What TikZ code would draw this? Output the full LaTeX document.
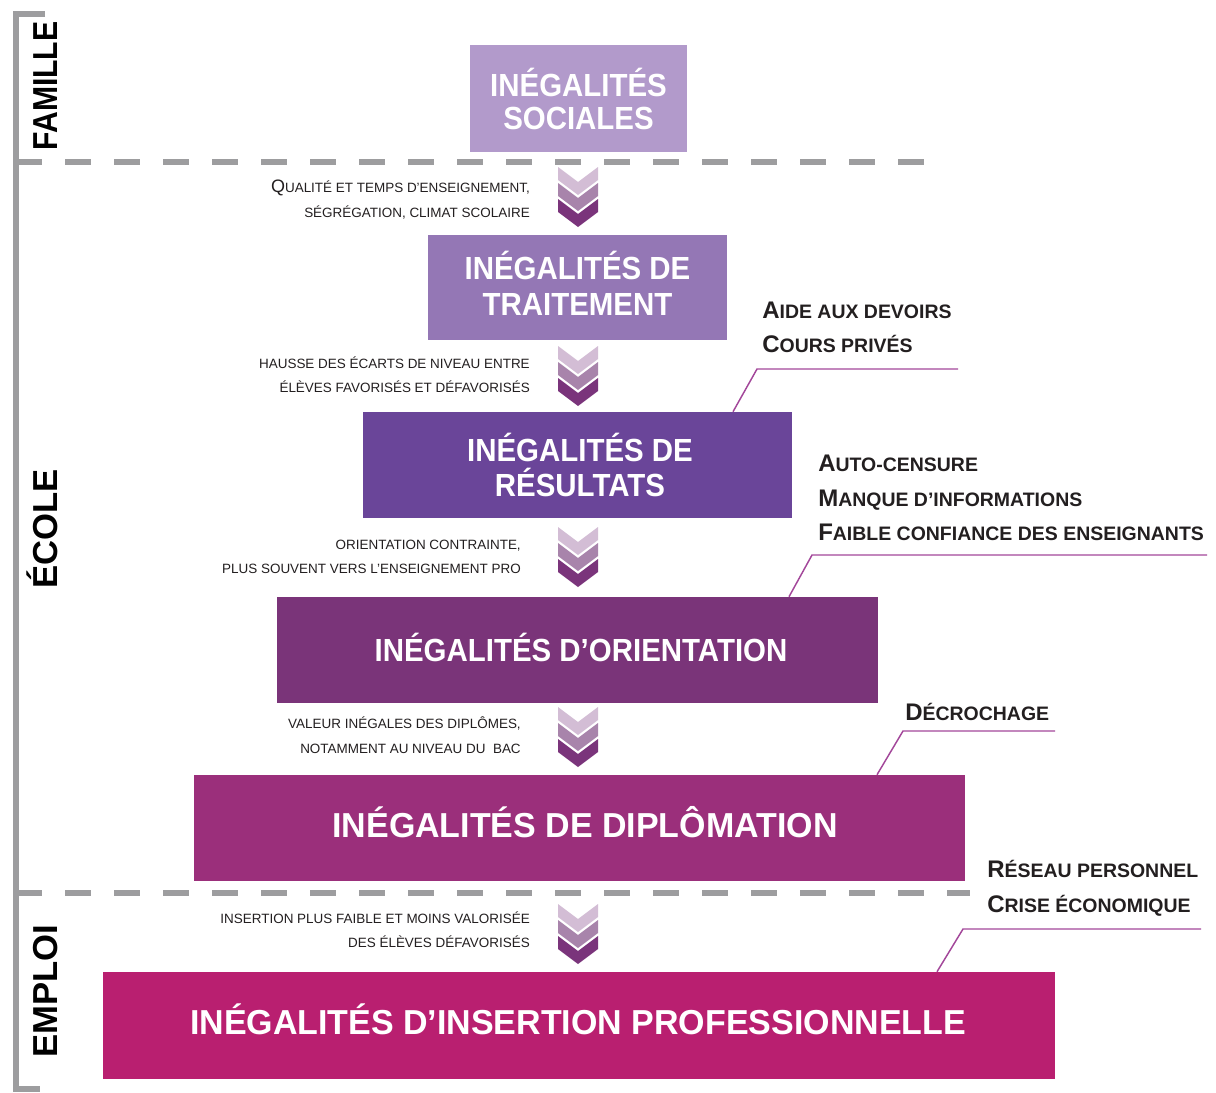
\documentclass[tikz,border=0pt]{standalone}
\usepackage{fontspec}
\setmainfont{Liberation Sans}
\newfontfamily\tfA[FakeStretch=0.92]{Liberation Sans}
\newfontfamily\tfB[FakeStretch=0.98]{Liberation Sans}
\definecolor{cA}{HTML}{B29ACB}
\definecolor{cB}{HTML}{9477B5}
\definecolor{cC}{HTML}{6A4599}
\definecolor{cD}{HTML}{7A3479}
\definecolor{cE}{HTML}{9B2F7B}
\definecolor{cF}{HTML}{B91F70}
\definecolor{chA}{HTML}{D3BDD5}
\definecolor{chB}{HTML}{A884AB}
\definecolor{chC}{HTML}{7A347B}
\definecolor{gr}{HTML}{9D9D9F}
\definecolor{cl}{HTML}{A3479A}
\definecolor{txt}{HTML}{231F20}
\newcommand\Bq[1]{{\fontsize{13.5}{12}\selectfont #1}}
\newcommand\Ab[1]{{\fontsize{18}{18}\selectfont #1}}
\tikzset{
  box/.style={draw=none, inner sep=0pt},
  ttl/.style={inner sep=0pt, anchor=base, text=white,
    font={\tfA\bfseries\fontsize{24}{24}\selectfont}},
  widettl/.style={ttl, font={\tfB\bfseries\fontsize{26}{26}\selectfont}},
  lbl/.style={inner sep=0pt, anchor=base east, text=txt,
    font={\fontsize{10.1}{12}\selectfont}},
  ann/.style={inner sep=0pt, anchor=base west, text=txt,
    font={\bfseries\fontsize{14.6}{16}\selectfont}},
  sect/.style={rotate=90, inner sep=0pt, text=black,
    font={\bfseries\fontsize{26}{26}\selectfont}, text height=18.6pt, text depth=0pt},
  sep/.style={draw=gr, line width=4.5pt, dash pattern=on 19.5pt off 17.25pt},
  bracket/.style={draw=gr, line width=5pt},
  callout/.style={draw=cl, line width=1.1pt},
  chevs/.pic={
    \fill[chA] (-20,0) -- (0,15) -- (20,0) -- (20,13) -- (0,28) -- (-20,13) -- cycle;
    \fill[chB] (-20,16) -- (0,31) -- (20,16) -- (20,29) -- (0,44) -- (-20,29) -- cycle;
    \fill[chC] (-20,32) -- (0,47) -- (20,32) -- (20,45) -- (0,60) -- (-20,45) -- cycle;
  }
}
\begin{document}
\begin{tikzpicture}[x=0.75pt,y=-0.75pt]
\fill[white] (0,0) rectangle (1216,1092);
\useasboundingbox (0,0) rectangle (1216,1092);

% bracket and separators
\draw[bracket] (45,14) -- (16,14) -- (16,1089) -- (40,1089);
\draw[sep] (16,162) -- (930,162);
\draw[sep] (16,893) -- (970,893);

% section labels
\node[sect] (famille) at (45.5,86) {\scalebox{0.87}[1]{FAMILLE}};
\node[sect] (ecole) at (45.5,529) {ÉCOLE};
\node[sect] (emploi) at (45.5,991) {EMPLOI};

% boxes
\node[box, fill=cA, minimum width=162.75pt, minimum height=80.25pt] (b1) at (578.5,98.5) {};
\node[box, fill=cB, minimum width=224.25pt, minimum height=78.75pt] (b2) at (577.5,287.5) {};
\node[box, fill=cC, minimum width=321.75pt, minimum height=79.5pt] (b3) at (577.5,465) {};
\node[box, fill=cD, minimum width=450.75pt, minimum height=79.5pt] (b4) at (577.5,650) {};
\node[box, fill=cE, minimum width=578.25pt, minimum height=79.5pt] (b5) at (579.5,828) {};
\node[box, fill=cF, minimum width=714pt, minimum height=80.25pt] (b6) at (579,1025.5) {};

% box titles
\node[ttl] (t1a) at (578.5,96) {INÉGALITÉS};
\node[ttl] (t1b) at (578.5,129) {SOCIALES};
\node[ttl] (t2a) at (577.5,279.5) {INÉGALITÉS DE};
\node[ttl] (t2b) at (577.5,315.5) {TRAITEMENT};
\node[ttl] (t3a) at (580,461.5) {INÉGALITÉS DE};
\node[ttl] (t3b) at (580,496.5) {RÉSULTATS};
\node[ttl] (t4) at (581,661.5) {INÉGALITÉS D’ORIENTATION};
\node[widettl] (t5) at (585,837.4) {INÉGALITÉS DE DIPLÔMATION};
\node[widettl] (t6) at (578,1034.4) {INÉGALITÉS D’INSERTION PROFESSIONNELLE};

% chevrons
\pic at (578,167) {chevs};
\pic at (578,346) {chevs};
\pic at (578,527) {chevs};
\pic at (578,707) {chevs};
\pic at (578,904) {chevs};

% chevron labels
\node[lbl] (l1a) at (530,192) {\Bq{Q}UALITÉ ET TEMPS D’ENSEIGNEMENT,};
\node[lbl] (l1b) at (530,217) {SÉGRÉGATION, CLIMAT SCOLAIRE};
\node[lbl] (l2a) at (530,368) {HAUSSE DES ÉCARTS DE NIVEAU ENTRE};
\node[lbl] (l2b) at (530,392) {ÉLÈVES FAVORISÉS ET DÉFAVORISÉS};
\node[lbl] (l3a) at (521,549) {ORIENTATION CONTRAINTE,};
\node[lbl] (l3b) at (521,573) {PLUS SOUVENT VERS L’ENSEIGNEMENT PRO};
\node[lbl] (l4a) at (521,728) {VALEUR INÉGALES DES DIPLÔMES,};
\node[lbl] (l4b) at (521,753) {NOTAMMENT AU NIVEAU DU\ \ BAC};
\node[lbl] (l5a) at (530,923) {INSERTION PLUS FAIBLE ET MOINS VALORISÉE};
\node[lbl] (l5b) at (530,947) {DES ÉLÈVES DÉFAVORISÉS};

% annotations
\node[ann] (a1) at (762,318) {\Ab{A}IDE AUX DEVOIRS};
\node[ann] (a2) at (762,352) {\Ab{C}OURS PRIVÉS};
\node[ann] (a3) at (818,471) {\Ab{A}UTO-CENSURE};
\node[ann] (a4) at (818,506) {\Ab{M}ANQUE D’INFORMATIONS};
\node[ann] (a5) at (818,540) {\Ab{F}AIBLE CONFIANCE DES ENSEIGNANTS};
\node[ann] (a6) at (905,720) {\Ab{D}ÉCROCHAGE};
\node[ann] (a7) at (987,877) {\Ab{R}ÉSEAU PERSONNEL};
\node[ann] (a8) at (987,912) {\Ab{C}RISE ÉCONOMIQUE};

% callout lines
\coordinate (k1) at (757,369); \coordinate (e1) at (958,369);
\coordinate (k2) at (812,555); \coordinate (e2) at (1207,555);
\coordinate (k3) at (903,731); \coordinate (e3) at (1055,731);
\coordinate (k4) at (963,929); \coordinate (e4) at (1201,929);
\draw[callout] (733,0 |- b3.north) -- (k1) -- (e1);
\draw[callout] (789,0 |- b4.north) -- (k2) -- (e2);
\draw[callout] (877,0 |- b5.north) -- (k3) -- (e3);
\draw[callout] (937,0 |- b6.north) -- (k4) -- (e4);
\end{tikzpicture}
\end{document}
